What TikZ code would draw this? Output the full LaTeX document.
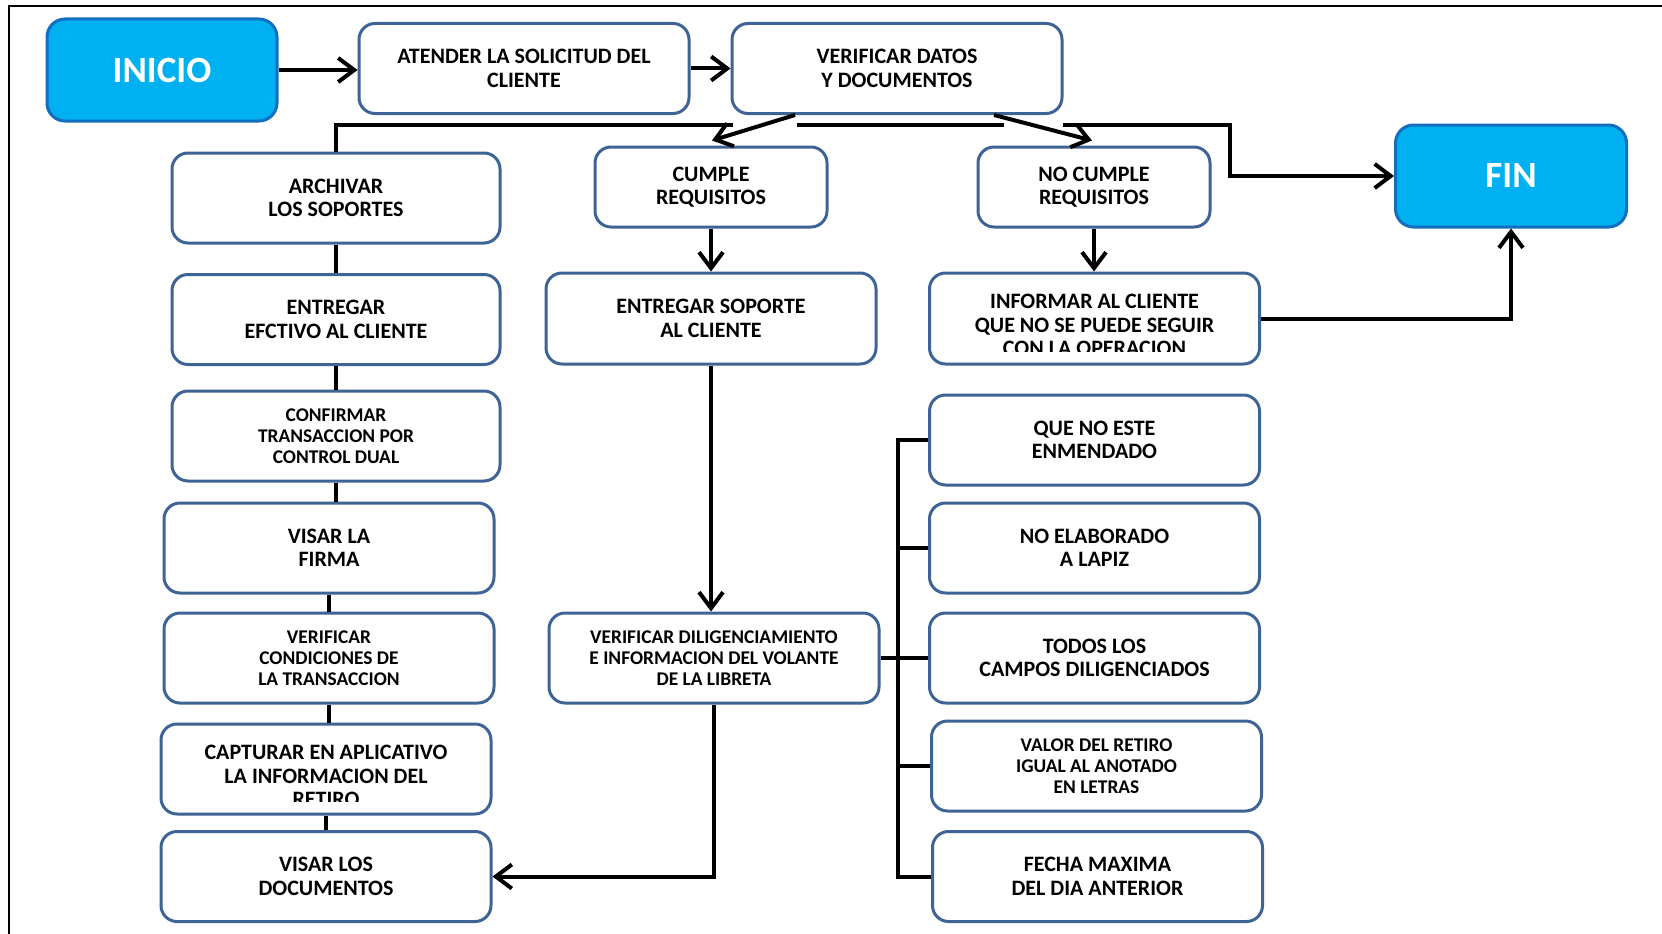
\documentclass[tikz,border=0pt]{standalone}
\usepackage{fontspec}
\setmainfont{Carlito}
\usetikzlibrary{arrows.meta}

\definecolor{boxblue}{RGB}{62,100,150}
\definecolor{termfill}{RGB}{0,176,240}
\definecolor{termline}{RGB}{18,110,190}

\tikzset{
  box/.style={draw=boxblue, line width=3pt, rounded corners=16pt, fill=white,
    align=center, inner sep=0pt, minimum width=330pt, minimum height=90pt,
    font=\fontsize{22}{23.5}\selectfont\bfseries},
  small/.style={font=\fontsize{19.4}{21}\selectfont\bfseries},
  narrow/.style={minimum width=232pt, minimum height=80pt},
  boxtext/.style={align=center, inner sep=0pt,
    font=\fontsize{22}{23.5}\selectfont\bfseries},
  term/.style={draw=termline, fill=termfill, line width=3pt, rounded corners=18pt,
    minimum width=230pt, minimum height=102pt, inner sep=0pt, text=white,
    font=\fontsize{37}{40}\selectfont\bfseries},
  link/.style={line width=4pt},
  flow/.style={link, -{Straight Barb[length=16pt,width=24pt]}},
  frameline/.style={line width=2pt},
}

\begin{document}
\begin{tikzpicture}[x=1pt, y=-1pt]
\useasboundingbox (0,0) rectangle (1662,934);

% outer frame (left and top edges)
\draw[frameline] (1662,6) -- (9,6) -- (9,934);

% terminals
\node[term] (inicio) at (162,70) {INICIO};
\node[term, minimum width=231pt] (fin) at (1511,176) {FIN};

% top row
\node[box] (atender) at (524,68.5) {ATENDER LA SOLICITUD DEL\\CLIENTE};
\node[box] (verificar) at (897,68.5) {VERIFICAR DATOS\\Y DOCUMENTOS};

% decision outcomes
\node[box, narrow] (cumple) at (711,187) {CUMPLE\\REQUISITOS};
\node[box, narrow] (nocumple) at (1094,187) {NO CUMPLE\\REQUISITOS};

% left column
\node[box, minimum width=328pt] (archivar) at (336,198) {ARCHIVAR\\LOS SOPORTES};
\node[box, minimum width=328pt] (entregaref) at (336,319.5) {ENTREGAR\\EFCTIVO AL CLIENTE};
\node[box, small, minimum width=328pt] (confirmar) at (336,436) {CONFIRMAR\\TRANSACCION POR\\CONTROL DUAL};
\node[box] (visarfirma) at (329,548) {VISAR LA\\FIRMA};
\node[box, small] (vercond) at (329,658) {VERIFICAR\\CONDICIONES DE\\LA TRANSACCION};
\node[box] (capturar) at (326,769) {};
\node[box] (visardocs) at (326,876.5) {VISAR LOS\\DOCUMENTOS};

% middle column
\node[box, minimum height=91pt] (entregarsop) at (711,318.5) {ENTREGAR SOPORTE\\AL CLIENTE};
\node[box, small] (verdilig) at (714,658) {VERIFICAR DILIGENCIAMIENTO\\E INFORMACION DEL VOLANTE\\DE LA LIBRETA};

% right column
\node[box, minimum height=91pt] (informar) at (1094.5,318.5) {};
\node[box] (quenoeste) at (1094.5,440) {QUE NO ESTE\\ENMENDADO};
\node[box] (noelaborado) at (1094.5,548) {NO ELABORADO\\A LAPIZ};
\node[box] (todos) at (1094.5,658) {TODOS LOS\\CAMPOS DILIGENCIADOS};
\node[box, small] (valor) at (1096.5,766) {VALOR DEL RETIRO\\IGUAL AL ANOTADO\\EN LETRAS};
\node[box] (fecha) at (1097.5,876.5) {FECHA MAXIMA\\DEL DIA ANTERIOR};

% texts that overflow their boxes are cut at the inner margin
\begin{scope}
  \clip (informar.north west) rectangle ([yshift=14pt]informar.south east);
  \node[boxtext] (informar-text) at (1094.5,325) {INFORMAR AL CLIENTE\\QUE NO SE PUEDE SEGUIR\\CON LA OPERACION};
\end{scope}
\begin{scope}
  \clip (capturar.north west) rectangle ([yshift=14pt]capturar.south east);
  \node[boxtext] (capturar-text) at (326,776) {CAPTURAR EN APLICATIVO\\LA INFORMACION DEL\\RETIRO};
\end{scope}

% main flow
\draw[flow] (inicio.east) -- (inicio.east -| atender.west);
\draw[flow] (atender.east) -- (atender.east -| verificar.west);
\draw[flow] ([xshift=-102pt]verificar.south) -- ([xshift=1pt,yshift=5pt]cumple.north);
\draw[flow] ([xshift=97pt]verificar.south) -- ([xshift=-2pt,yshift=5pt]nocumple.north);
\draw[flow] (cumple.south) -- (cumple.south |- entregarsop.north);
\draw[flow] (nocumple.south) -- (nocumple.south |- informar.north);
\draw[flow] (informar.east) -| (fin.south);
\draw[flow] (entregarsop.south) -- (entregarsop.south |- verdilig.north);
\draw[flow] (verdilig.south) |- (visardocs.east);

% rail from the archive step to the end, broken where the branches cross it
\coordinate (gapA1) at (733,125);
\coordinate (gapA2) at (797,125);
\coordinate (gapB1) at (1004,125);
\coordinate (gapB2) at (1063,125);
\coordinate (elbow) at (1230,125);
\draw[link] (archivar.north) |- (gapA1);
\draw[link] (gapA2) -- (gapB1);
\draw[flow] (gapB2) -- (elbow) |- (fin.west);

% left column chain
\foreach \a/\b in {archivar/entregaref, entregaref/confirmar, confirmar/visarfirma,
                   visarfirma/vercond, vercond/capturar, capturar/visardocs}
  \draw[link] (\a.south) -- (\a.south |- \b.north);

% checklist bus
\coordinate (bus) at (898,0);
\draw[link] (quenoeste.west) -- (quenoeste.west -| bus) -- (fecha.west -| bus) -- (fecha.west);
\foreach \n in {noelaborado, todos, valor}
  \draw[link] (\n.west) -- (\n.west -| bus);
\draw[link] (verdilig.east) -- (verdilig.east -| bus);
\end{tikzpicture}
\end{document}
